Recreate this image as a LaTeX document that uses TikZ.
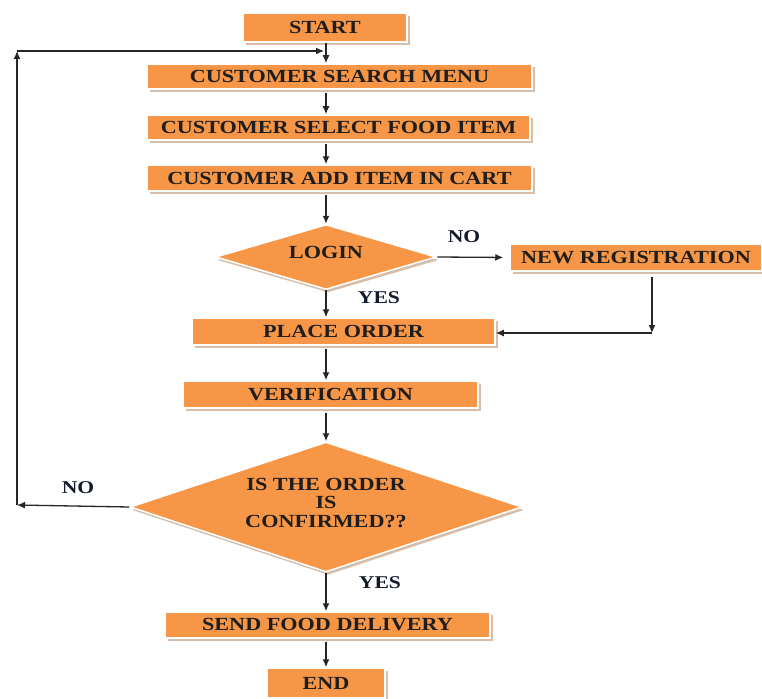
\documentclass[tikz,border=0pt]{standalone}
\usepackage{fontspec}
\setmainfont{Liberation Serif}[FakeStretch=1.2]
\usetikzlibrary{shapes.geometric,arrows.meta,shadows}
\definecolor{boxorange}{HTML}{F79646}
\definecolor{shadowc}{RGB}{214,190,170}
\definecolor{txtc}{HTML}{1E1E1E}
\definecolor{lblc}{HTML}{141A2E}
\tikzset{
  basefont/.style={font=\fontsize{18.5}{19}\selectfont\bfseries, text=txtc},
  boxstep/.style={basefont, rectangle, fill=boxorange, draw=white, line width=1.5pt,
    inner sep=0pt, drop shadow={shadow xshift=2.5pt, shadow yshift=-3pt, fill=shadowc, opacity=1}},
  decision/.style={basefont, diamond, aspect=3, fill=boxorange, draw=white, line width=1.5pt,
    inner sep=0pt, drop shadow={shadow xshift=2pt, shadow yshift=-3pt, fill=shadowc, opacity=1}},
  arr/.style={line width=1.3pt, draw=black!85, -{Latex[length=8pt,width=7pt]}},
  lbl/.style={font=\fontsize{18}{19}\selectfont\bfseries, text=lblc, inner sep=0pt}
}
\begin{document}
\begin{tikzpicture}[x=1pt,y=-1pt]
\useasboundingbox (0,0) rectangle (762,698);
\fill[white] (0,0) rectangle (762,698);
\coordinate (ax) at (326,0);
\node[boxstep, minimum width=164pt, minimum height=29pt] (start) at (325,27.5) {START};
\node[boxstep, minimum width=385pt, minimum height=25pt] (search) at (339.5,76.5) {CUSTOMER SEARCH MENU};
\node[boxstep, minimum width=383pt, minimum height=25pt] (select) at (338.5,127.5) {CUSTOMER SELECT FOOD ITEM};
\node[boxstep, minimum width=385pt, minimum height=26pt] (add) at (339.5,178) {CUSTOMER ADD ITEM IN CART};
\node[decision, minimum width=221pt, minimum height=65pt] (login) at (326,257) {\raisebox{9pt}{LOGIN}};
\node[boxstep, minimum width=252pt, minimum height=27pt] (newreg) at (636,257.5) {NEW REGISTRATION};
\node[boxstep, minimum width=303pt, minimum height=27pt] (place) at (343.5,331.5) {PLACE ORDER};
\node[boxstep, minimum width=295pt, minimum height=27pt] (verif) at (330.5,394.5) {VERIFICATION};
\node[decision, minimum width=392pt, minimum height=130pt, align=center] (confirm) at (326,507)
  {\raisebox{9pt}{\shortstack{IS THE ORDER\\[3pt] IS\\[3pt] CONFIRMED??}}};
\node[boxstep, minimum width=325pt, minimum height=26pt] (send) at (327.5,625) {SEND FOOD DELIVERY};
\node[boxstep, minimum width=118pt, minimum height=30pt] (end) at (326,683) {END};

% main flow
\draw[arr] (start.south -| ax) -- (search.north -| ax);
\draw[arr] (search.south -| ax) ++(0,3) -- (select.north -| ax);
\draw[arr] (select.south -| ax) ++(0,3) -- (add.north -| ax);
\draw[arr] (add.south -| ax) ++(0,3) -- (login.north);
\draw[arr] (login.south) -- (place.north -| login.south);
\draw[arr] (place.south -| ax) ++(0,3) -- (verif.north -| ax);
\draw[arr] (verif.south -| ax) ++(0,4) -- (confirm.north);
\draw[arr] (confirm.south) -- (send.north -| confirm.south);
\draw[arr] (send.south -| ax) ++(0,3) -- (end.north -| ax);

% login NO branch
\draw[arr, shorten >=6pt] (login.east) -- (newreg.west);
\coordinate (lr) at (652,333);
\draw[arr] (newreg.south -| lr) ++(0,5) -- (lr);
\draw[arr] (lr) -- (place.east |- lr);

% confirm NO loop
\coordinate (lc1) at (17,505);
\coordinate (lc2) at (17,51);
\coordinate (lc3) at (324,51);
\draw[arr] (confirm.west) -- (lc1);
\draw[arr] (lc1) -- (lc2);
\draw[arr] (lc2) -- (lc3);

% labels
\node[lbl] (nologin) at (464,237) {NO};
\node[lbl] (yeslogin) at (379,298) {YES};
\node[lbl] (noconf) at (78,488) {NO};
\node[lbl] (yesconf) at (380,583) {YES};
\end{tikzpicture}
\end{document}
